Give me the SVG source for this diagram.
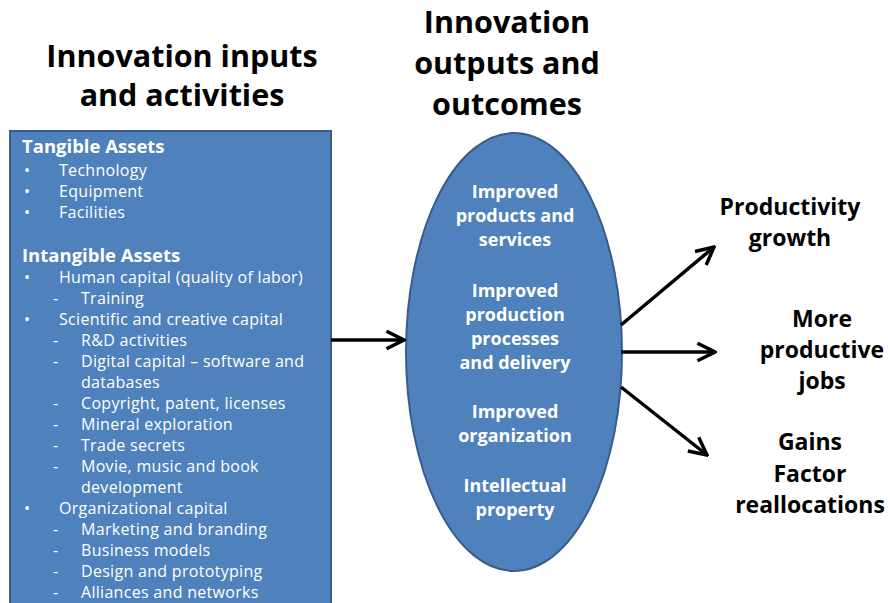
<svg xmlns="http://www.w3.org/2000/svg" width="892" height="603" viewBox="0 0 892 603">
  <defs>
    <style>
      .title { font-family: "Open Sans", Lato, "Liberation Sans", sans-serif; font-weight: bold; font-size: 30.5px; fill: #000; text-anchor: middle; }
      .result { font-family: "Open Sans", Lato, "Liberation Sans", sans-serif; font-weight: bold; font-size: 23px; fill: #000; text-anchor: middle; }
      .list { font-family: "Open Sans", Lato, "Liberation Sans", sans-serif; font-size: 16px; letter-spacing: 0.3px; fill: #fff; }
      .head { font-family: "Open Sans", Lato, "Liberation Sans", sans-serif; font-weight: bold; font-size: 18.5px; fill: #fff; }
      .oval { font-family: "Open Sans", Lato, "Liberation Sans", sans-serif; font-weight: bold; font-size: 18px; fill: #fff; text-anchor: middle; }
      .shape { fill: #4F81BD; stroke: #385D8A; stroke-width: 2; }
      .link { stroke: #000; stroke-width: 3.5; fill: none; marker-end: url(#chev); }
    </style>
    <marker id="chev" viewBox="0 0 12 12" refX="11" refY="6" markerWidth="6" markerHeight="6" markerUnits="strokeWidth" orient="auto">
      <path d="M1,1 L11,6 L1,11" fill="none" stroke="#000" stroke-width="2" stroke-linejoin="miter"/>
    </marker>
  </defs>
  <rect width="892" height="603" fill="#fff"/>

  <!-- column headings -->
  <g id="heading-inputs">
    <text class="title" x="182" y="67">Innovation inputs</text>
    <text class="title" x="182" y="106">and activities</text>
  </g>
  <g id="heading-outputs">
    <text class="title" x="507" y="33">Innovation</text>
    <text class="title" x="507" y="74">outputs and</text>
    <text class="title" x="507" y="115">outcomes</text>
  </g>

  <!-- inputs box -->
  <g id="inputs">
    <rect class="shape" x="10" y="131" width="321" height="480"/>
    <text class="head" x="22" y="153">Tangible Assets</text>
    <g class="list">
      <text x="24" y="176">•</text><text x="59" y="176">Technology</text>
      <text x="24" y="197">•</text><text x="59" y="197">Equipment</text>
      <text x="24" y="218">•</text><text x="59" y="218">Facilities</text>
    </g>
    <text class="head" x="22" y="262">Intangible Assets</text>
    <g class="list">
      <text x="24" y="283">•</text><text x="59" y="283">Human capital (quality of labor)</text>
      <text x="53" y="304">-</text><text x="81" y="304">Training</text>
      <text x="24" y="325">•</text><text x="59" y="325">Scientific and creative capital</text>
      <text x="53" y="346">-</text><text x="81" y="346">R&amp;D activities</text>
      <text x="53" y="367">-</text><text x="81" y="367">Digital capital – software and</text>
      <text x="81" y="388">databases</text>
      <text x="53" y="409">-</text><text x="81" y="409">Copyright, patent, licenses</text>
      <text x="53" y="430">-</text><text x="81" y="430">Mineral exploration</text>
      <text x="53" y="451">-</text><text x="81" y="451">Trade secrets</text>
      <text x="53" y="472">-</text><text x="81" y="472">Movie, music and book</text>
      <text x="81" y="493">development</text>
      <text x="24" y="514">•</text><text x="59" y="514">Organizational capital</text>
      <text x="53" y="535">-</text><text x="81" y="535">Marketing and branding</text>
      <text x="53" y="556">-</text><text x="81" y="556">Business models</text>
      <text x="53" y="577">-</text><text x="81" y="577">Design and prototyping</text>
      <text x="53" y="598">-</text><text x="81" y="598">Alliances and networks</text>
    </g>
  </g>

  <!-- outputs oval -->
  <g id="outputs">
    <ellipse class="shape" cx="514" cy="352" rx="108" ry="219"/>
    <text class="oval" x="515" y="198">Improved</text>
    <text class="oval" x="515" y="222">products and</text>
    <text class="oval" x="515" y="246">services</text>
    <text class="oval" x="515" y="297">Improved</text>
    <text class="oval" x="515" y="321">production</text>
    <text class="oval" x="515" y="345">processes</text>
    <text class="oval" x="515" y="369">and delivery</text>
    <text class="oval" x="515" y="418">Improved</text>
    <text class="oval" x="515" y="442">organization</text>
    <text class="oval" x="515" y="492">Intellectual</text>
    <text class="oval" x="515" y="516">property</text>
  </g>

  <!-- outcomes -->
  <g id="productivity">
    <text class="result" x="790" y="215">Productivity</text>
    <text class="result" x="790" y="246">growth</text>
  </g>
  <g id="jobs">
    <text class="result" x="822" y="327">More</text>
    <text class="result" x="822" y="358">productive</text>
    <text class="result" x="822" y="389">jobs</text>
  </g>
  <g id="gains">
    <text class="result" x="810" y="450">Gains</text>
    <text class="result" x="810" y="482">Factor</text>
    <text class="result" x="810" y="513">reallocations</text>
  </g>

  <!-- connectors -->
  <g id="connectors">
    <line class="link" x1="331" y1="340" x2="404" y2="340"/>
    <line class="link" x1="621" y1="325" x2="714" y2="247"/>
    <line class="link" x1="621" y1="352" x2="715" y2="352"/>
    <line class="link" x1="621" y1="387" x2="707" y2="455"/>
  </g>
</svg>
